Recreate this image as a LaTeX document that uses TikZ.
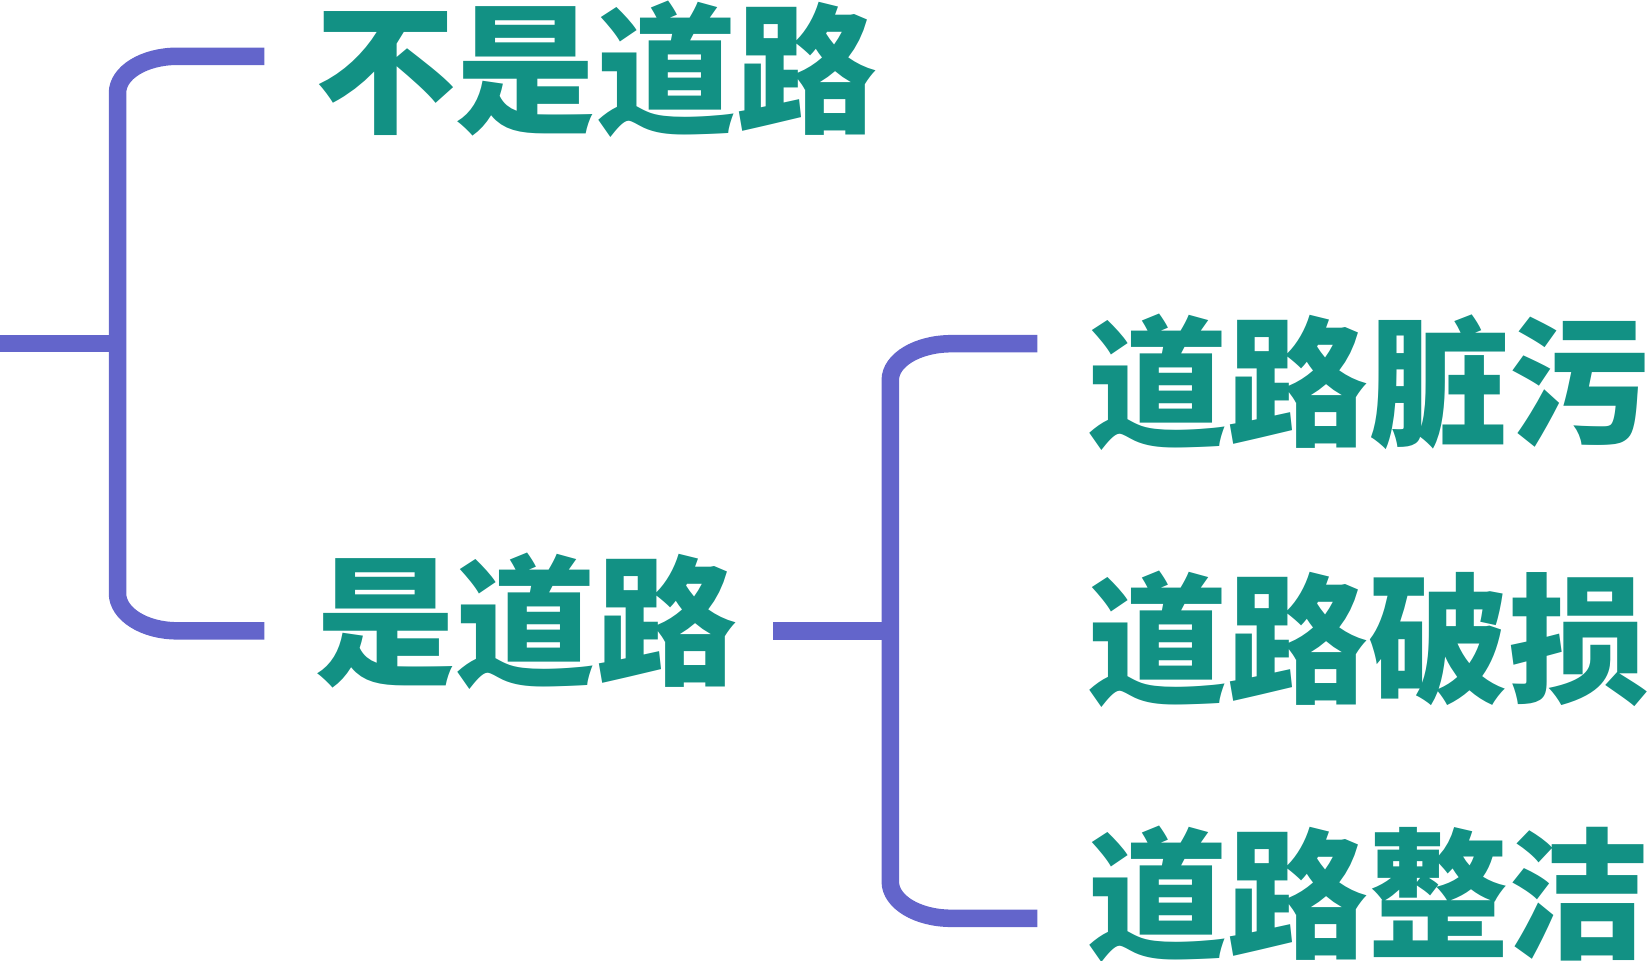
\documentclass[tikz,border=0pt]{standalone}
\usepackage{fontspec}
\newfontfamily\cjk{Noto Sans CJK SC}
\usetikzlibrary{positioning}
\definecolor{brk}{HTML}{6365CB}
\definecolor{lbl}{HTML}{129184}
\tikzset{
  bracket/.style={draw=brk,line width=17.5pt},
  lbl/.style={inner sep=0pt,anchor=base west,text=lbl,font=\cjk\bfseries\fontsize{140.5}{150}\selectfont},
}
\begin{document}
\begin{tikzpicture}[x=1pt,y=-1pt]
\useasboundingbox (0,0) rectangle (1649,961);
% \draw[help lines,step=100] (0,0) grid (1649,961);
\node (no) [lbl] at (315,122) {不是道路};
\node (yes) [lbl] at (315,674) {是道路};
\node (dirty) [lbl] at (1087,435) {道路脏污};
\node (broken) [lbl] at (1087,692) {道路破损};
\node (clean) [lbl] at (1087,947) {道路整洁};
%
\coordinate (root) at (0,343.7);
\coordinate (fork1) at (117.5,343.7);
\coordinate (arm-no) at (264.3,56.3);
\coordinate (arm-yes) at (264.3,630.8);
\coordinate (stem) at (773.3,631);
\coordinate (fork2) at (890.3,631);
\coordinate (arm-dirty) at (1037.3,343.7);
\coordinate (arm-broken) at (1037.3,631);
\coordinate (arm-clean) at (1037.3,918.3);
%
\path[bracket] (root) -- (fork1);
\path[bracket] (arm-no) -- (177,56.3) .. controls (144.2,56.3) and (117.5,72.6) .. (117.5,93)
  -- (117.5,593.3) .. controls (117.5,614) and (144.2,630.8) .. (177,630.8) -- (arm-yes);
\path[bracket] (stem) -- (fork2);
\path[bracket] (arm-dirty) -- (951.3,343.7) .. controls (917.6,343.7) and (890.3,360) .. (890.3,380)
  -- (890.3,881.7) .. controls (890.3,902) and (917.6,918.3) .. (951.3,918.3) -- (arm-clean);
%
\end{tikzpicture}
\end{document}
